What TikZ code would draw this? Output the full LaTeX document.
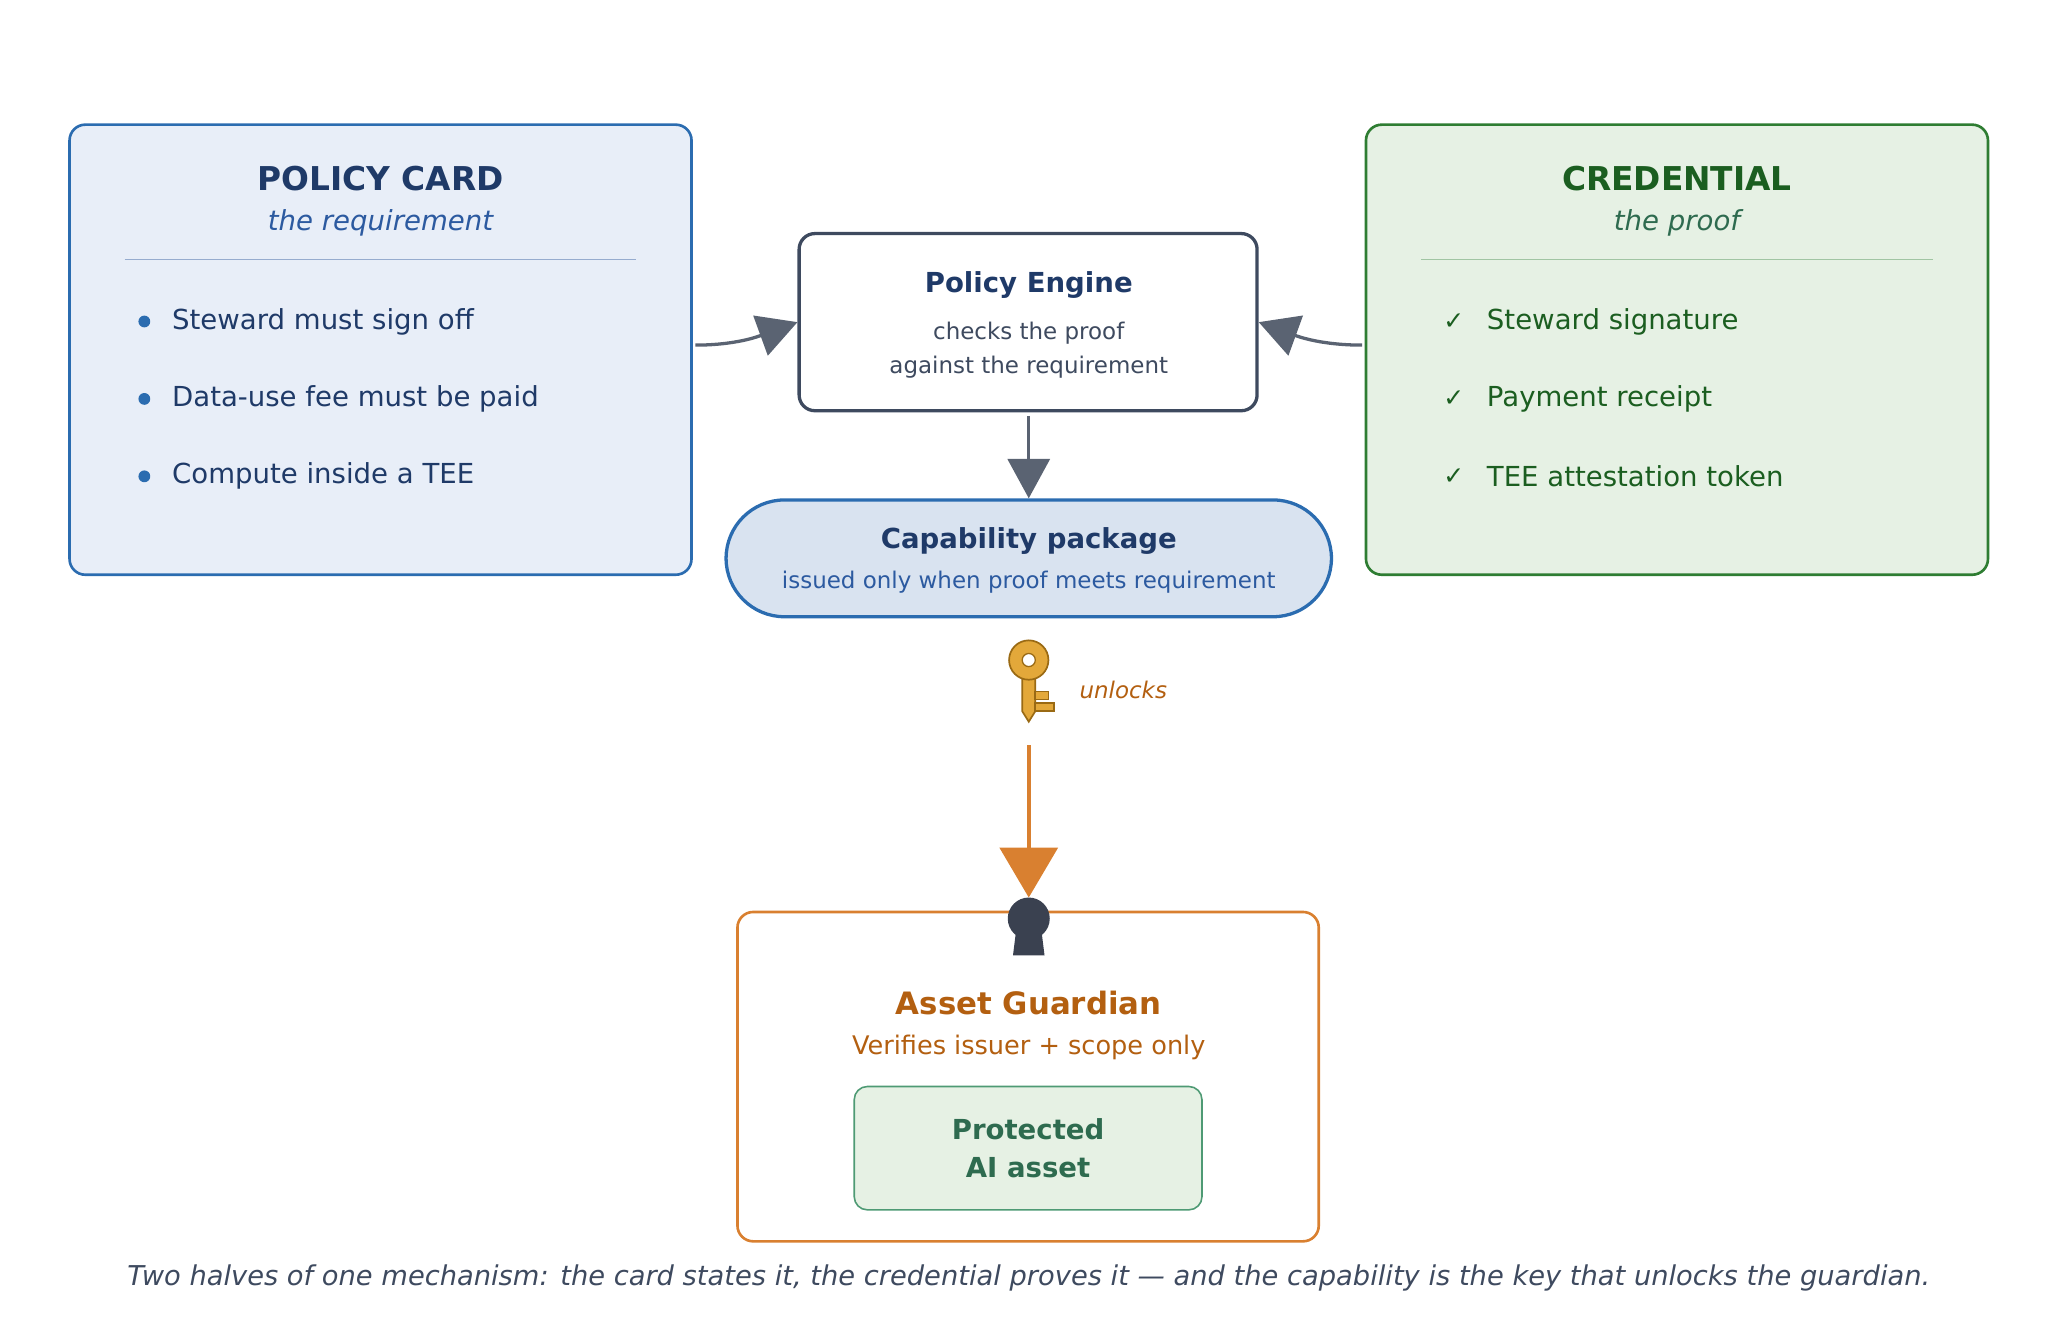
\documentclass[tikz,border=0pt]{standalone}
\usepackage{fontspec}
\setmainfont{DejaVu Sans}
\usetikzlibrary{arrows.meta,shapes.misc}
\definecolor{bluebd}{HTML}{2B6CB0}
\definecolor{bluefill}{HTML}{E8EEF8}
\definecolor{navy}{HTML}{1F3A68}
\definecolor{bluesub}{HTML}{2C5AA0}
\definecolor{greenbd}{HTML}{2E7D32}
\definecolor{greenfill}{HTML}{E6F1E4}
\definecolor{greentx}{HTML}{1B5E20}
\definecolor{greensub}{HTML}{2E6B4F}
\definecolor{slate}{HTML}{3E4A5F}
\definecolor{arrgray}{HTML}{5A6372}
\definecolor{capfill}{HTML}{D9E3F0}
\definecolor{orange}{HTML}{D98030}
\definecolor{orangetx}{HTML}{B35F10}
\definecolor{keyfill}{HTML}{E3A83A}
\definecolor{keybd}{HTML}{9A6A14}
\definecolor{hole}{HTML}{3A4150}
\definecolor{protbd}{HTML}{4E9A74}
\begin{document}
\begin{tikzpicture}[x=1pt,y=-1pt,
  card/.style={draw=#1,line width=2pt,rounded corners=12pt},
  body/.style={font=\fontsize{21}{24}\selectfont,anchor=west,inner sep=0pt},
  title/.style={font=\fontsize{25}{28}\selectfont\bfseries},
  sub/.style={font=\fontsize{21}{24}\selectfont\itshape},
  garr/.style={draw=arrgray,line width=2.5pt,-{Triangle[length=30pt,width=32pt]}},
]
\useasboundingbox (0,0) rectangle (1560,1004);
% policy card
\node[card=bluebd,fill=bluefill,minimum width=474pt,minimum height=343pt] (pc) at (290,266.5) {};
\node[title,text=navy] (pct) at (290,136) {POLICY CARD};
\node[sub,text=bluesub] (pcs) at (290,170) {the requirement};
\draw[color=bluesub!50,line width=0.8pt] (95,198) -- (485,198);
\foreach \y/\t/\n in {245/Steward must sign off/a,304/Data-use fee must be paid/b,363/Compute inside a TEE/c}{
  \fill[bluebd] (110,\y) circle (4.5pt);
  \node[body,text=navy] (pc\n) at (131,\y) {\t};
}
% credential
\node[card=greenbd,fill=greenfill,minimum width=474pt,minimum height=343pt] (cr) at (1278,266.5) {};
\node[title,text=greentx] (crt) at (1278,136) {CREDENTIAL};
\node[sub,text=greensub] (crs) at (1278,170) {the proof};
\draw[color=greenbd!45,line width=0.8pt] (1083,198) -- (1473,198);
\foreach \y/\t/\n in {245/Steward signature/a,304/Payment receipt/b,363/TEE attestation token/c}{
  \node[font=\fontsize{19}{22}\selectfont,text=greentx] (ck\n) at (1108,\y) {✓};
  \node[body,text=greentx] (cr\n) at (1133,\y) {\t};
}
% policy engine
\node[draw=slate,line width=2.5pt,rounded corners=12pt,fill=white,minimum width=349pt,minimum height=135pt] (pe) at (783.5,245.5) {};
\node[font=\fontsize{21}{24}\selectfont\bfseries,text=navy] (pet) at (784,217) {Policy Engine};
\node[font=\fontsize{17.5}{26}\selectfont,text=slate,align=center] (pes) at (784,267) {checks the proof\\against the requirement};
\coordinate (la) at (530,263);
\coordinate (ra) at (1038,263);
\draw[garr] (la) to[out=0,in=200] (pe.west);
\draw[garr] (ra) to[out=180,in=-20] (pe.east);
% capability
\node[rounded rectangle,draw=bluebd,line width=2.5pt,fill=capfill,minimum width=468pt,minimum height=89pt] (cap) at (784,425.5) {};
\node[font=\fontsize{21}{24}\selectfont\bfseries,text=navy] (capt) at (784,412) {Capability package};
\node[font=\fontsize{17.5}{20}\selectfont,text=bluesub] (caps) at (784,444) {issued only when proof meets requirement};
\coordinate (pedown) at (784,317);
\draw[garr] (pedown) -- (cap.north);
% key
\draw[draw=keybd,fill=keyfill,line width=1.3pt] (779,514) -- (779,542) -- (784,550) -- (789,542) -- (789,514) -- cycle;
\draw[draw=keybd,fill=keyfill,line width=1.3pt] (789,527) rectangle (799,533);
\draw[draw=keybd,fill=keyfill,line width=1.3pt] (789,536) rectangle (803,542);
\draw[draw=keybd,fill=keyfill,line width=1.3pt] (784,503) circle (15pt);
\fill[white] (784,503) circle (5pt);
\draw[keybd,line width=1pt] (784,503) circle (5pt);
\node[font=\fontsize{17.5}{20}\selectfont\itshape,text=orangetx] (unl) at (856,526) {unlocks};
% guardian
\node[card=orange,fill=white,minimum width=443pt,minimum height=251pt] (ag) at (783.5,820.5) {};
\coordinate (ks) at (784,568);
\draw[draw=orange,line width=3pt,-{Triangle[length=38pt,width=44pt]}] (ks) -- (784,684);
\fill[hole] (784,700) circle (16pt);
\fill[hole] (775,704) -- (793,704) -- (796,728) -- (772,728) -- cycle;
\node[font=\fontsize{23.5}{26}\selectfont\bfseries,text=orangetx] (agt) at (784,764) {Asset Guardian};
\node[font=\fontsize{19.5}{22}\selectfont,text=orangetx] (ags) at (784,798) {Verifies issuer + scope only};
\node[draw=protbd,line width=1.2pt,fill=greenfill,rounded corners=10pt,minimum width=265pt,minimum height=94pt,
  font=\fontsize{21}{29}\selectfont\bfseries,text=greensub,align=center] (pa) at (783.5,875) {Protected\\AI asset};
% caption
\node[font=\fontsize{20.8}{24}\selectfont\itshape,text=slate] (cap2) at (784,974) {Two halves of one mechanism: the card states it, the credential proves it — and the capability is the key that unlocks the guardian.};
\end{tikzpicture}
\end{document}
